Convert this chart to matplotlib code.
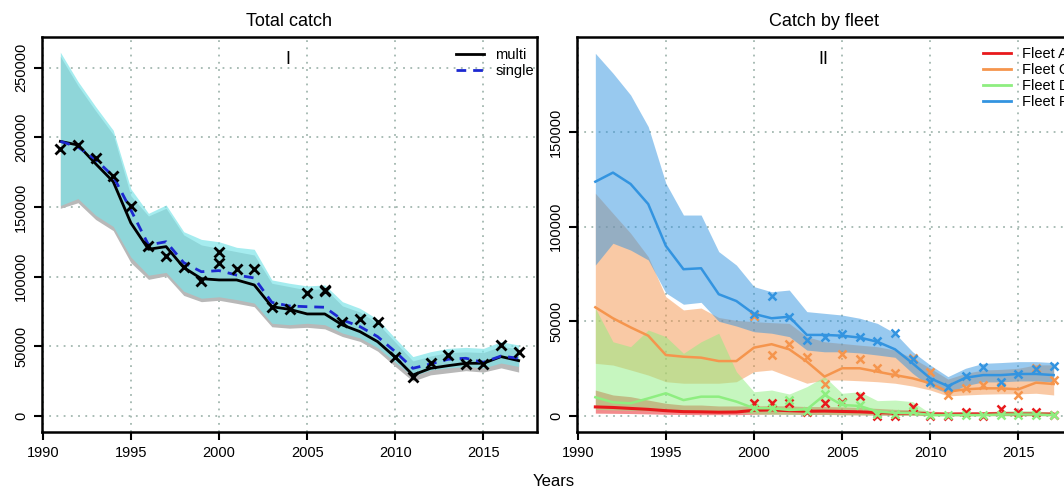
import matplotlib
matplotlib.use('Agg')
import matplotlib.pyplot as plt
from matplotlib.lines import Line2D
import numpy as np

plt.rcParams['font.family'] = ['Liberation Sans', 'DejaVu Sans']

years = np.arange(1991, 2018)

# ---- total catch, multi vs single model ----
multi = [197000, 194400, 181000, 168100, 138500, 119600, 121500, 106500, 98500, 97600,
         97600, 94000, 78400, 76500, 73200, 73200, 65300, 60500, 53300, 42100,
         29400, 34200, 36100, 37800, 37800, 42600, 39700]
single = [197000, 193000, 184000, 172000, 147800, 122700, 125000, 110000, 103500, 104300,
          101100, 99000, 81500, 78900, 78400, 78000, 68900, 64100, 56900, 46100,
          34200, 37300, 40700, 41400, 38500, 43000, 41400]
multi_hi = [258000, 237000, 219000, 202000, 158000, 143500, 149000, 129900, 122700, 120300,
            117900, 115500, 95200, 92800, 90400, 91600, 79000, 74500, 66500, 53000,
            39500, 43000, 45500, 46000, 45500, 50000, 48000]
multi_lo = [149000, 153000, 141000, 133000, 110000, 98000, 100500, 86500, 82000, 83000,
            80800, 78400, 64000, 63000, 63600, 62500, 57000, 53500, 46500, 35500,
            25000, 29500, 31000, 32500, 31500, 34500, 31500]
single_hi = [261000, 240000, 222000, 205000, 163000, 145400, 151400, 132200, 126700, 125000,
             121000, 119600, 97600, 95200, 93300, 94000, 82000, 77200, 69400, 55700,
             42600, 46100, 48500, 49200, 48500, 53300, 50900]
single_lo = [151000, 156000, 144000, 136000, 114000, 101000, 103000, 89500, 84500, 85500,
             83500, 81000, 66500, 65500, 66500, 65500, 59500, 56000, 49000, 38500,
             28500, 33000, 34500, 35500, 34500, 38000, 35500]
obs_years = [1991, 1992, 1993, 1994, 1995, 1996, 1997, 1998, 1999, 2000, 2000, 2001, 2002,
             2003, 2004, 2005, 2006, 2006, 2007, 2008, 2009, 2010, 2011, 2012, 2013, 2014,
             2015, 2016, 2017]
obs_total = [191500, 194400, 184900, 172400, 150900, 122000, 115000, 107100, 97100, 117900,
             109500, 105500, 105500, 78000, 76500, 88500, 90500, 89500, 67700, 69400, 67200,
             42100, 28200, 38300, 43500, 37300, 37300, 50900, 46100]

# ---- catch by fleet ----
fleets = ['Fleet A', 'Fleet C', 'Fleet D', 'Fleet F']
fleet_cols = ['#e8191c', '#f5954d', '#8eee80', '#3394e0']
est = {
    'Fleet A': [4800, 4500, 4000, 3500, 2800, 2300, 2200, 2000, 2100, 3000, 3200, 2800, 2500,
                2600, 2400, 2200, 1800, 1500, 1600, 1000, 900, 1000, 1000, 1200, 1000, 1000, 900],
    'Fleet C': [57400, 51600, 46800, 42400, 32200, 31300, 30800, 29000, 29000, 36100, 37900,
                35200, 28700, 20800, 25200, 25200, 23400, 21600, 19900, 17300, 12800, 14100,
                14600, 14600, 14100, 17600, 16900],
    'Fleet D': [9900, 7200, 6700, 9300, 12000, 8400, 10200, 10200, 7600, 4100, 4100, 3200,
                3500, 11100, 5800, 5300, 2300, 1700, 1700, 500, 500, 500, 500, 800, 800, 800, 500],
    'Fleet F': [123700, 128500, 122500, 111900, 89800, 77500, 78000, 64300, 60700, 53900,
                51600, 52400, 42800, 42800, 42400, 41400, 39200, 35200, 27800, 19900, 15800,
                20200, 21600, 21600, 22200, 22200, 21600],
}
hi = {
    'Fleet A': [13700, 11100, 10200, 8400, 6700, 5800, 5800, 5300, 5300, 5300, 5500, 5300,
                5000, 5000, 4800, 4500, 4000, 3500, 3300, 2500, 2200, 2300, 2300, 2500, 2400,
                2400, 2200],
    'Fleet C': [117600, 107000, 96500, 84100, 63000, 56000, 57000, 52000, 50500, 49800, 49300,
                48900, 41900, 39200, 38300, 37400, 36600, 34800, 30500, 25200, 19500, 22500,
                24300, 24600, 25200, 27000, 27000],
    'Fleet D': [56900, 39200, 36600, 45400, 41900, 33100, 39200, 43700, 23400, 12800, 13700,
                11600, 15500, 20800, 12000, 12800, 8100, 8400, 7600, 1400, 1200, 1400, 1600,
                2500, 2800, 2800, 1600],
    'Fleet F': [191500, 181000, 169500, 152800, 122900, 106100, 106100, 86800, 79700, 68300,
                65600, 66500, 55100, 54200, 53300, 51600, 48900, 43700, 33900, 26900, 20800,
                25200, 27800, 28200, 28700, 28700, 28200],
}
lo = {
    'Fleet A': [1500, 1400, 1300, 1100, 900, 800, 700, 700, 700, 900, 1000, 900, 800, 800,
                700, 600, 500, 400, 400, 200, 200, 200, 200, 200, 200, 200, 200],
    'Fleet C': [27800, 26900, 24300, 21600, 18100, 17300, 17300, 17300, 18100, 23400, 24300,
                20800, 17300, 19000, 19000, 18600, 18100, 17300, 15800, 13700, 10600, 11100,
                11500, 11700, 11700, 12000, 11100],
    'Fleet D': [3500, 3200, 3000, 2800, 2600, 2400, 2300, 2200, 2000, 1000, 900, 800, 800,
                900, 700, 600, 400, 300, 300, 100, 100, 100, 100, 100, 100, 100, 100],
    'Fleet F': [79700, 91200, 87600, 82400, 65000, 59000, 60000, 50000, 47500, 44500, 43700,
                41900, 34800, 33900, 33900, 33300, 32200, 31000, 22500, 15500, 12000, 16000,
                18000, 18000, 18500, 18500, 18000],
}
obs_years_fleet = np.arange(2000, 2018)
obs = {
    'Fleet A': [6700, 6700, 6700, 2300, 6700, 7200, 10700, 200, 0, 4600, 200, 0, 2300, 0,
                3700, 2300, 2300, 500],
    'Fleet C': [53000, 32200, 38000, 31000, 16700, 32600, 30000, 25200, 22900, 30500, 23400,
                11100, 14600, 16400, 15200, 11100, 25200, 19000],
    'Fleet D': [4200, 4000, 8400, 2500, 11600, 6700, 5800, 1000, 1000, 2800, 300, 300, 300,
                300, 300, 500, 300, 300],
    'Fleet F': [53900, 63500, 52400, 40100, 41500, 43300, 41500, 39800, 44000, 30000, 18100,
                15500, 21100, 25700, 18100, 22200, 24800, 26600],
}

fig = plt.figure(figsize=(10.64, 4.96), dpi=100)
ax1 = fig.add_axes([42 / 1064, 64 / 496, 495 / 1064, 395 / 496])
ax2 = fig.add_axes([577 / 1064, 64 / 496, 495 / 1064, 395 / 496])


def style(ax, yticks):
    ax.set_xlim(1989.96, 2018.04)
    ax.set_xticks([1990, 1995, 2000, 2005, 2010, 2015])
    ax.set_yticks(yticks)
    ax.set_yticklabels([str(v) for v in yticks], rotation=90, va='center')
    ax.grid(True, color='#a3b8b0', linestyle=(0, (1, 3)), lw=1.3)
    ax.set_axisbelow(True)
    for s in ax.spines.values():
        s.set_linewidth(1.8)
    ax.tick_params(length=6, width=1.5, labelsize=10.5, pad=4)


# total catch
ax1.fill_between(years, multi_lo, multi_hi, color='#b8b8b8', lw=0)
ax1.fill_between(years, single_lo, single_hi, color='#7de4e8', alpha=0.69, lw=0)
ax1.plot(years, multi, color='black', lw=2)
ax1.plot(years, single, color='#1c28d0', lw=2, ls=(0, (3.5, 2.5)))
ax1.plot(obs_years, obs_total, 'x', color='black', ms=6.5, mew=2)
style(ax1, [0, 50000, 100000, 150000, 200000, 250000])
ax1.set_ylim(-11500, 271900)
ax1.set_title('Total catch', fontsize=13, pad=8)
ax1.text(0.497, 0.942, 'I', transform=ax1.transAxes, ha='center', va='center', fontsize=13)
ax1.legend([Line2D([], [], color='black', lw=2),
            Line2D([], [], color='#1c28d0', lw=2, ls=(0, (3.5, 2.5)))],
           ['multi', 'single'], loc='upper left', bbox_to_anchor=(0.836, 0.972),
           frameon=False, fontsize=10.5, handlelength=1.9, handletextpad=0.8,
           labelspacing=0.15, borderaxespad=0, borderpad=0)

# catch by fleet
for f, c in zip(fleets, fleet_cols):
    ax2.fill_between(years, lo[f], hi[f], color=c, alpha=0.5, lw=0)
for f, c in zip(fleets, fleet_cols):
    ax2.plot(years, est[f], color=c, lw=2.2 if f == 'Fleet A' else 1.8)
    ax2.plot(obs_years_fleet, obs[f], 'x', color=c, ms=6, mew=1.8)
style(ax2, [0, 50000, 100000, 150000])
ax2.set_ylim(-8450, 200100)
ax2.set_title('Catch by fleet', fontsize=13, pad=8)
ax2.text(0.497, 0.942, 'II', transform=ax2.transAxes, ha='center', va='center', fontsize=13)
ax2.legend([Line2D([], [], color=c, lw=2) for c in fleet_cols], fleets,
           loc='upper left', bbox_to_anchor=(0.82, 0.975), frameon=False, fontsize=10.5,
           handlelength=1.9, handletextpad=0.8, labelspacing=0.15, borderaxespad=0,
           borderpad=0)

fig.text(0.52, 0.015, 'Years', ha='center', va='bottom', fontsize=12)

fig.savefig('out.png', dpi=100)
